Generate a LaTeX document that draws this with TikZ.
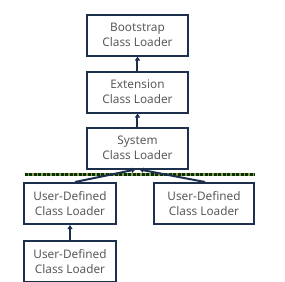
\documentclass[tikz,border=0pt]{standalone}
\usepackage{fontspec}
\setmainfont{Noto Sans}
\usepackage{tikz}
\usetikzlibrary{arrows.meta, positioning}
\definecolor{loadnavy}{RGB}{28, 48, 78}
\definecolor{loadtext}{RGB}{90, 90, 90}
\definecolor{loadolive}{RGB}{150, 150, 70}

\begin{document}
\begin{tikzpicture}[x=1pt, y=-1pt,
    box/.style={draw=loadnavy, line width=2pt, align=center, text=loadtext,
                minimum width=101pt, minimum height=41pt, inner sep=0pt,
                font=\fontsize{11.8}{15}\selectfont},
    arr/.style={-{Triangle[length=4pt, width=5pt]}, line width=2pt, loadnavy}
  ]
    \useasboundingbox (0,0) rectangle (285,282);
    \node[box] (boot) at (137.5,35) {Bootstrap\\Class Loader};
    \node[box, below=14pt of boot] (ext) {Extension\\Class Loader};
    \node[box, below=13pt of ext] (sys) {System\\Class Loader};
    \node[box, minimum width=92pt] (udl) at (70,203.5) {User-Defined\\Class Loader};
    \node[box, minimum width=100pt] (udr) at (204,203.5) {User-Defined\\Class Loader};
    \node[box, minimum width=92pt, below=15pt of udl] (udb) {User-Defined\\Class Loader};
    % boundary line
    \coordinate (sepl) at (25,174);
    \coordinate (sepr) at (255,174);
    \draw[loadolive, line width=3pt] (sepl) -- (sepr);
    \draw[black!80!green, line width=3pt, dash pattern=on 3pt off 1.5pt] (sepl) -- (sepr);
    \draw[arr] (ext) -- (boot);
    \draw[arr] (sys) -- (ext);
    \draw[arr] ([xshift=5pt]udl.north) -- ([xshift=-2pt]sys.south);
    \draw[arr] ([xshift=1pt]udr.north) -- ([xshift=2pt]sys.south);
    \draw[arr] (udb) -- (udl);
  \end{tikzpicture}
\end{document}
